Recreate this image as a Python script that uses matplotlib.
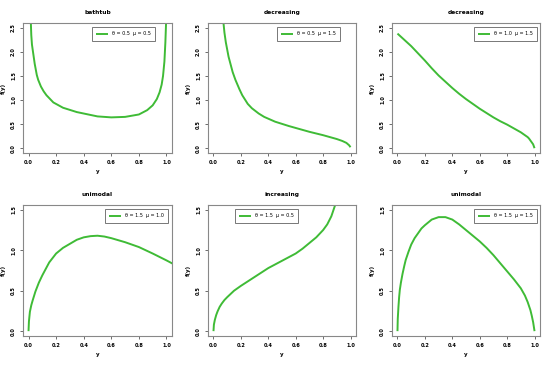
import matplotlib
matplotlib.use("Agg")
import matplotlib.pyplot as plt

titles = ["bathtub", "decreasing", "decreasing", "unimodal", "increasing", "unimodal"]
labels = ["\u03b8 = 0.5  \u03bc = 0.5", "\u03b8 = 0.5  \u03bc = 1.5", "\u03b8 = 1.0  \u03bc = 1.5",
          "\u03b8 = 1.5  \u03bc = 1.0", "\u03b8 = 1.5  \u03bc = 0.5", "\u03b8 = 1.5  \u03bc = 1.5"]

x1 = [0.012, 0.017, 0.02, 0.025, 0.035, 0.045, 0.06, 0.07, 0.09, 0.11, 0.13, 0.18, 0.25, 0.35, 0.5,
      0.6, 0.7, 0.8, 0.86, 0.9, 0.93, 0.95, 0.965, 0.975, 0.985, 0.992, 0.997, 0.999]
y1 = [3.2, 2.6, 2.35, 2.15, 1.95, 1.75, 1.52, 1.42, 1.28, 1.18, 1.10, 0.95, 0.84, 0.75, 0.66,
      0.64, 0.65, 0.70, 0.79, 0.89, 1.02, 1.16, 1.32, 1.5, 1.8, 2.2, 2.6, 3.0]

x2 = [0.06, 0.073, 0.08, 0.09, 0.11, 0.14, 0.16, 0.19, 0.21, 0.25, 0.28, 0.33, 0.37, 0.45, 0.55,
      0.65, 0.7, 0.8, 0.85, 0.9, 0.94, 0.97, 0.99, 1.0]
y2 = [3.0, 2.6, 2.4, 2.2, 1.9, 1.58, 1.42, 1.22, 1.1, 0.92, 0.83, 0.72, 0.65, 0.55, 0.46,
      0.38, 0.34, 0.27, 0.23, 0.19, 0.15, 0.11, 0.06, 0.02]

x3 = [0.0, 0.05, 0.1, 0.15, 0.2, 0.25, 0.3, 0.35, 0.4, 0.45, 0.5, 0.55, 0.6, 0.65, 0.7, 0.75,
      0.8, 0.85, 0.9, 0.92, 0.95, 0.96, 0.98, 0.99, 1.0]
y3 = [2.38, 2.25, 2.12, 1.97, 1.82, 1.66, 1.51, 1.38, 1.25, 1.13, 1.02, 0.92, 0.82, 0.73, 0.64, 0.56,
      0.49, 0.41, 0.33, 0.29, 0.23, 0.2, 0.12, 0.08, 0.0]

x4 = [0.0, 0.003, 0.01, 0.02, 0.03, 0.05, 0.075, 0.1, 0.15, 0.2, 0.25, 0.3, 0.35, 0.4, 0.45, 0.5,
      0.55, 0.6, 0.7, 0.8, 0.9, 1.0, 1.05]
y4 = [0.0, 0.12, 0.24, 0.32, 0.38, 0.49, 0.6, 0.69, 0.85, 0.96, 1.03, 1.08, 1.13, 1.16, 1.175, 1.18,
      1.17, 1.15, 1.10, 1.04, 0.96, 0.875, 0.83]

x5 = [0.0, 0.003, 0.01, 0.02, 0.03, 0.045, 0.06, 0.08, 0.1, 0.15, 0.2, 0.25, 0.3, 0.35, 0.4, 0.45,
      0.5, 0.55, 0.6, 0.65, 0.7, 0.75, 0.8, 0.83, 0.86, 0.88, 0.9]
y5 = [0.0, 0.08, 0.14, 0.2, 0.245, 0.3, 0.34, 0.385, 0.42, 0.5, 0.56, 0.615, 0.67, 0.725, 0.78, 0.825,
      0.87, 0.915, 0.96, 1.02, 1.09, 1.16, 1.25, 1.32, 1.42, 1.52, 1.62]

x6 = [0.0, 0.002, 0.007, 0.012, 0.017, 0.025, 0.037, 0.05, 0.06, 0.08, 0.1, 0.125, 0.15, 0.175, 0.2,
      0.25, 0.3, 0.35, 0.4, 0.45, 0.5, 0.55, 0.6, 0.65, 0.7, 0.75, 0.8, 0.85, 0.9, 0.93, 0.95,
      0.97, 0.98, 0.99, 1.0]
y6 = [0.0, 0.15, 0.30, 0.42, 0.51, 0.6, 0.71, 0.81, 0.88, 0.98, 1.07, 1.15, 1.21, 1.27, 1.31,
      1.38, 1.41, 1.41, 1.38, 1.32, 1.25, 1.18, 1.11, 1.03, 0.94, 0.84, 0.74, 0.64, 0.53, 0.44, 0.36,
      0.26, 0.19, 0.11, 0.0]

xs = [x1, x2, x3, x4, x5, x6]
ys = [y1, y2, y3, y4, y5, y6]
ymaxs = [2.5, 2.5, 2.5, 1.5, 1.5, 1.5]
xticks = [0.0, 0.2, 0.4, 0.6, 0.8, 1.0]
yticks_top = [0.0, 0.5, 1.0, 1.5, 2.0, 2.5]
yticks_bot = [0.0, 0.5, 1.0, 1.5]

W, H = 550, 366
fig = plt.figure(figsize=(5.5, 3.66), dpi=100)

# axes boxes in pixels (left, top, right, bottom)
boxes = [(23, 23, 172, 153), (208, 23, 356, 153), (392, 23, 540, 153),
         (23, 205, 172, 336), (208, 205, 356, 336), (392, 205, 540, 336)]
# legend upper-right corner in pixels
legpos = [(155, 27), (340, 27), (537, 27), (168, 209), (298, 209), (537, 209)]

green = "#3fbb36"
for i in range(6):
    l, t, r, b = boxes[i]
    ax = fig.add_axes([l / W, 1 - b / H, (r - l) / W, (b - t) / H])
    ax.plot(xs[i], ys[i], color=green, lw=1.4, solid_capstyle="butt")
    ax.set_xlim(-0.04, 1.04)
    ym = ymaxs[i]
    ax.set_ylim(-0.04 * ym, 1.04 * ym)
    ax.set_xticks(xticks)
    ax.set_xticklabels([f"{v:.1f}" for v in xticks], fontsize=3.6, fontweight="bold")
    yt = yticks_top if i < 3 else yticks_bot
    ax.set_yticks(yt)
    ax.set_yticklabels([f"{v:.1f}" for v in yt], fontsize=3.6, fontweight="bold",
                       rotation=90, va="center")
    ax.tick_params(length=2.5, width=0.6, pad=2.5, color="#555555")
    for s in ax.spines.values():
        s.set_color("#888888")
        s.set_linewidth(0.8)
    ax.set_title(titles[i], fontsize=4.2, fontweight="bold", pad=6.5)
    ax.set_xlabel("y", fontsize=4, fontweight="bold", labelpad=3)
    ax.set_ylabel("f(y)", fontsize=4, fontweight="bold", labelpad=4)
    lx, ly = legpos[i]
    leg = ax.legend([ax.lines[0]], [labels[i]], loc="upper right",
                    bbox_to_anchor=(lx / W, 1 - ly / H), bbox_transform=fig.transFigure,
                    borderaxespad=0, fontsize=3.5, frameon=True, fancybox=False,
                    handlelength=2.4, handletextpad=0.8, borderpad=0.9)
    leg.get_frame().set_edgecolor("#555555")
    leg.get_frame().set_linewidth(0.7)

fig.savefig("out.png", dpi=100)
